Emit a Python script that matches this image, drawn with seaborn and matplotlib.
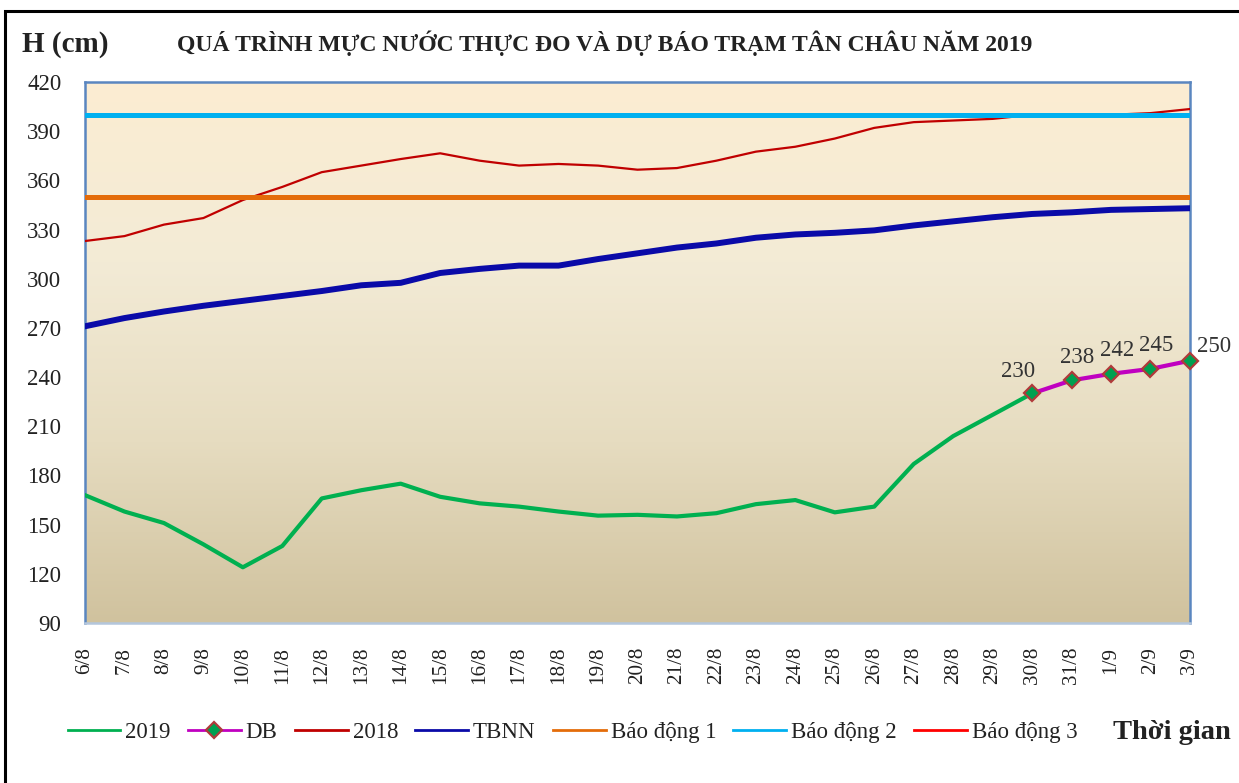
import numpy as np
import pandas as pd
import matplotlib
matplotlib.use("Agg")
import matplotlib.pyplot as plt
from matplotlib.colors import LinearSegmentedColormap
from matplotlib.patches import Rectangle
import seaborn as sns

dates = ["6/8", "7/8", "8/8", "9/8", "10/8", "11/8", "12/8", "13/8", "14/8", "15/8",
         "16/8", "17/8", "18/8", "19/8", "20/8", "21/8", "22/8", "23/8", "24/8", "25/8",
         "26/8", "27/8", "28/8", "29/8", "30/8", "31/8", "1/9", "2/9", "3/9"]

h2019 = [168, 158, 151, 138, 124, 137, 166, 171, 175, 167, 163, 161, 158, 155.5, 156,
         155, 157, 162.5, 165, 157.5, 161, 187, 204, 217, 230]
db_dates = ["30/8", "31/8", "1/9", "2/9", "3/9"]
db_vals = [230, 238, 242, 245, 250]
h2018 = [323, 326, 333, 337, 348, 356, 365, 369, 373, 376.5, 372, 369, 370, 369, 366.5,
         367.5, 372, 377.5, 380.5, 385.5, 392, 395.5, 396.5, 397.5, 400, 400, 400, 401, 403.5]
tbnn = [271, 276, 280, 283.5, 286.5, 289.5, 292.5, 296, 297.5, 303.5, 306, 308, 308,
        312, 315.5, 319, 321.5, 325, 327, 328, 329.5, 332.5, 335, 337.5, 339.5, 340.5,
        342, 342.5, 343]
alarm1, alarm2, alarm3 = 350, 400, 450

plt.rcParams['font.family'] = ['Liberation Serif', 'DejaVu Serif']

fig = plt.figure(figsize=(12.39, 7.83), dpi=100)
ax = fig.add_axes([0.0686, 0.2043, 0.8918, 0.6910])

# background gradient of the plot area
grad = LinearSegmentedColormap.from_list("bg", ["#d0c29e", "#e6dcc0", "#f3ebd6", "#fcedd2"])
ax.imshow(np.linspace(0, 1, 256).reshape(-1, 1), cmap=grad, origin="lower",
          extent=[0, 1, 0, 1], transform=ax.transAxes, aspect="auto", zorder=0)

sns.lineplot(x=dates, y=h2018, sort=False, color="#c00000", lw=1.6, ax=ax, label="2018", zorder=3)
sns.lineplot(x=dates, y=tbnn, sort=False, color="#0a0aa8", lw=4.3, ax=ax, label="TBNN", zorder=3)
sns.lineplot(x=dates[:len(h2019)], y=h2019, sort=False, color="#00b050", lw=3, ax=ax,
             label="2019", zorder=4)
sns.lineplot(x=db_dates, y=db_vals, sort=False, color="#c000c0", lw=3, marker="D",
             markersize=8, markerfacecolor="#00a050", markeredgecolor="#b03a3a",
             markeredgewidth=1.6, ax=ax, label="DB", zorder=6, clip_on=False)
ax.axhline(alarm1, color="#e46c0a", lw=3.6, label="Báo động 1", zorder=5)
ax.axhline(alarm2, color="#00b0f0", lw=3.6, label="Báo động 2", zorder=5)
ax.axhline(alarm3, color="#ff0000", lw=2, label="Báo động 3", zorder=5)

offsets = [(-14, 22), (6, 23), (6, 23), (6, 23), (24, 14)]
for d, v, off in zip(db_dates, db_vals, offsets):
    ax.annotate(f"{v}", (d, v), textcoords="offset pixels", xytext=off,
                ha="center", va="center", fontsize=16.5, color="#333333", zorder=7)

ax.set_xlim(0, len(dates) - 1)
ax.set_ylim(90, 420)
ax.set_yticks(range(90, 421, 30))
ax.tick_params(axis="y", length=0, pad=17, labelsize=16.5, labelcolor="#222222")
ax.tick_params(axis="x", length=0, pad=17, labelsize=15.2, labelrotation=90, labelcolor="#222222")
ax.set_xlabel("")
ax.set_ylabel("")
for side in ["left", "right", "top"]:
    ax.spines[side].set_color("#5a86c0")
    ax.spines[side].set_linewidth(1.8)
ax.spines["bottom"].set_color("#b4c6dc")
ax.spines["bottom"].set_linewidth(1.8)

handles, labels = ax.get_legend_handles_labels()
order = ["2019", "DB", "2018", "TBNN", "Báo động 1", "Báo động 2", "Báo động 3"]
hl = dict(zip(labels, handles))
leg = fig.legend([hl[k] for k in order], order, loc="center", bbox_to_anchor=(0.462, 0.064),
                 ncol=7, frameon=False, fontsize=16.5, handlelength=2.3, columnspacing=0.75,
                 handletextpad=0.22)
for line in leg.get_lines():
    line.set_linewidth(2)
for t in leg.get_texts():
    t.set_color("#222222")
ax.get_legend().remove()

fig.text(0.488, 0.945, "QUÁ TRÌNH MỰC NƯỚC THỰC ĐO VÀ DỰ BÁO TRẠM TÂN CHÂU NĂM 2019",
         ha="center", va="center", fontsize=17, fontweight="bold", color="#222222")
fig.text(0.0178, 0.943, "H (cm)", ha="left", va="center", fontsize=21,
         fontweight="bold", color="#222222")
fig.text(0.946, 0.064, "Thời gian", ha="center", va="center", fontsize=20.5,
         fontweight="bold", color="#222222")

fig.patches.append(Rectangle((5 / 1239, -0.05), 1.1, 1 - 11 / 783 + 0.05, transform=fig.transFigure,
                             fill=False, edgecolor="black", lw=2.2))

fig.savefig("out.png", dpi=100)
